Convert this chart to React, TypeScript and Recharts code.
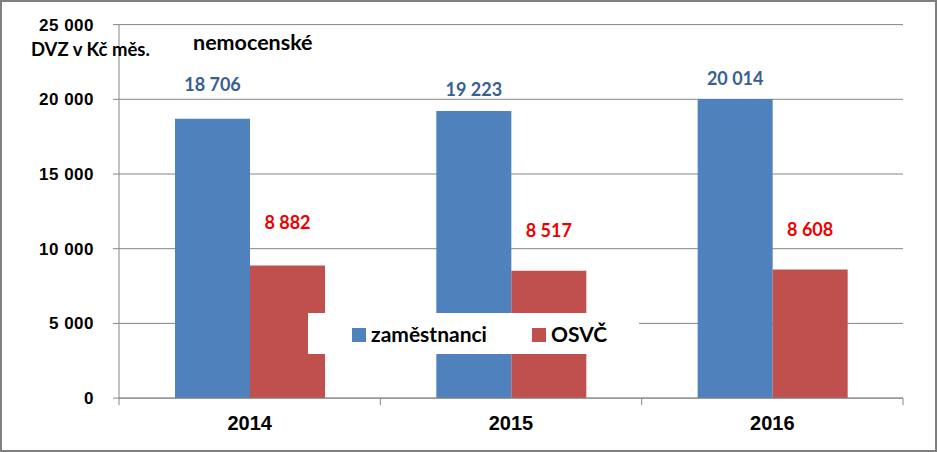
import React from "react";
import { BarChart, Bar, XAxis, YAxis, CartesianGrid, LabelList, Legend } from "recharts";

const years = ["2014", "2015", "2016"];
const zamestnanci = [18706, 19223, 20014];
const osvc = [8882, 8517, 8608];
const yTicks = [0, 5000, 10000, 15000, 20000, 25000];
const blueLift = [28, 15, 14];
const redLift = [36, 34, 33];

const data = years.map((y, i) => ({ year: y, zamestnanci: zamestnanci[i], osvc: osvc[i] }));

const fmt = (v: number) => String(v).replace(/\B(?=(\d{3})+(?!\d))/g, " ");

const BLUE = "#4F81BD";
const RED = "#C0504D";
const GRID = "#868686";
const LABEL_FONT = "Lato, 'Open Sans', sans-serif";

const makeLabel = (color: string, lifts: number[]) => (props: any) => {
  const { x, y, width, value, index } = props;
  return (
    <text
      x={x + width / 2}
      y={y - lifts[index]}
      textAnchor="middle"
      fill={color}
      fontFamily={LABEL_FONT}
      fontWeight={700}
      fontSize={18}
    >
      {fmt(value)}
    </text>
  );
};

const XTick = (props: any) => {
  const { x, y, payload, index } = props;
  const off = payload.offset || 0;
  return (
    <g>
      <line x1={x - off} x2={x - off} y1={y - 8} y2={y - 1} stroke={GRID} strokeWidth={1} />
      {index === years.length - 1 && (
        <line x1={x + off} x2={x + off} y1={y - 8} y2={y - 1} stroke={GRID} strokeWidth={1} />
      )}
      <text
        x={x}
        y={y + 24}
        textAnchor="middle"
        fill="#000"
        fontFamily="'Liberation Sans', Arial, sans-serif"
        fontWeight={700}
        fontSize={20}
      >
        {payload.value}
      </text>
    </g>
  );
};

const YTick = (props: any) => {
  const { y, payload } = props;
  return (
    <text
      x={94}
      y={y + 6}
      textAnchor="end"
      fill="#000"
      fontFamily="'Liberation Sans', Arial, sans-serif"
      fontWeight={700}
      fontSize={17}
      letterSpacing={0.5}
    >
      {fmt(payload.value)}
    </text>
  );
};

const LegendContent = () => (
  <div
    style={{
      width: 331,
      height: 41,
      background: "#fff",
      position: "relative",
      fontFamily: LABEL_FONT,
      fontWeight: 700,
      fontSize: 21,
      color: "#000",
    }}
  >
    <div style={{ position: "absolute", left: 44, top: 15, width: 14, height: 14, background: BLUE }} />
    <div style={{ position: "absolute", left: 63, top: 7, lineHeight: "28px" }}>zaměstnanci</div>
    <div style={{ position: "absolute", left: 224, top: 15, width: 14, height: 14, background: RED }} />
    <div style={{ position: "absolute", left: 243, top: 7, lineHeight: "28px" }}>OSVČ</div>
  </div>
);

export default function App() {
  return (
    <div style={{ position: "absolute", left: 0, top: 0, width: 938, height: 452, background: "#fff" }}>
      <div
        style={{
          position: "absolute",
          left: 0,
          top: 0,
          width: 937,
          height: 452,
          boxSizing: "border-box",
          border: "2px solid #808080",
        }}
      />
      <BarChart
        width={938}
        height={452}
        data={data}
        margin={{ top: 24.6, right: 35, bottom: 0, left: 0 }}
        barCategoryGap={56}
        barGap={0}
      >
        <CartesianGrid vertical={false} stroke={GRID} strokeWidth={1} />
        <XAxis
          dataKey="year"
          height={53.9}
          axisLine={{ stroke: GRID }}
          tickLine={false}
          tick={<XTick />}
          interval={0}
        />
        <YAxis
          width={119}
          domain={[0, 25000]}
          ticks={yTicks}
          axisLine={{ stroke: GRID }}
          tickLine={{ stroke: GRID }}
          tickSize={6}
          tick={<YTick />}
          interval={0}
        />
        <Legend
          layout="horizontal"
          verticalAlign="middle"
          align="center"
          content={<LegendContent />}
          wrapperStyle={{ position: "absolute", left: 308, top: 313, width: 331, height: 41 }}
        />
        <Bar dataKey="zamestnanci" name="zaměstnanci" fill={BLUE} isAnimationActive={false}>
          <LabelList dataKey="zamestnanci" content={makeLabel("#376092", blueLift)} />
        </Bar>
        <Bar dataKey="osvc" name="OSVČ" fill={RED} isAnimationActive={false}>
          <LabelList dataKey="osvc" content={makeLabel("#EE0000", redLift)} />
        </Bar>
      </BarChart>
      <div
        style={{
          position: "absolute",
          left: 31,
          top: 37,
          fontFamily: LABEL_FONT,
          fontWeight: 700,
          fontSize: 18.5,
          lineHeight: "24px",
          color: "#000",
          whiteSpace: "nowrap",
        }}
      >
        DVZ v Kč měs.
      </div>
      <div
        style={{
          position: "absolute",
          left: 193,
          top: 28,
          fontFamily: LABEL_FONT,
          fontWeight: 700,
          fontSize: 21.5,
          lineHeight: "28px",
          color: "#000",
          whiteSpace: "nowrap",
        }}
      >
        nemocenské
      </div>
    </div>
  );
}
